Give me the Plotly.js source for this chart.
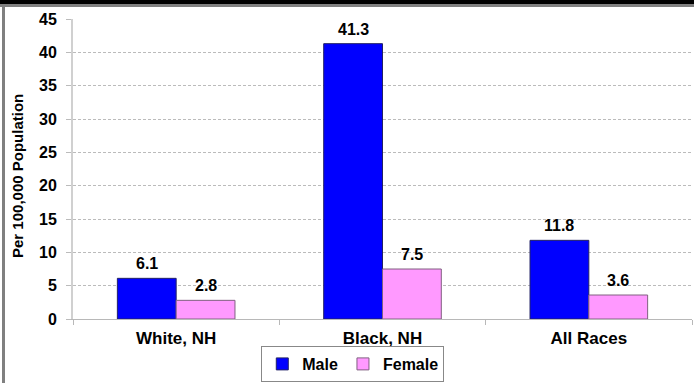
<!DOCTYPE html>
<html>
<head>
<meta charset="utf-8">
<script src="https://cdn.plot.ly/plotly-3.0.1.min.js"></script>
<style>
html,body{margin:0;padding:0;background:#fff;}
#wrap{position:relative;width:694px;height:383px;overflow:hidden;}
#chart{position:absolute;left:0;top:0;width:694px;height:383px;}
.bar{position:absolute;pointer-events:none;}
</style>
</head>
<body>
<div id="wrap">
<div id="chart"></div>
<div class="bar" style="left:0;top:0;width:694px;height:4px;background:#000;"></div>
<div class="bar" style="left:0;top:4px;width:694px;height:3px;background:#808080;"></div>
<div class="bar" style="left:2px;top:4px;width:3px;height:379px;background:#808080;"></div>
</div>
<script>
const categories = ["White, NH", "Black, NH", "All Races"];
const maleValues = [6.1, 41.3, 11.8];
const femaleValues = [2.8, 7.5, 3.6];
const seriesNames = ["Male", "Female"];
const yTitle = "Per 100,000 Population";

const FONT = "'Liberation Sans', Arial, sans-serif";
const fmt = v => v.toFixed(1);
const BARGAP = 0.43;
const barW = (1 - BARGAP) / 2;

const traces = [
  {type:'bar', name:seriesNames[0], x:categories, y:maleValues,
   marker:{color:'#0000FF', line:{color:'#222266', width:1}}},
  {type:'bar', name:seriesNames[1], x:categories, y:femaleValues,
   marker:{color:'#FF99FF', line:{color:'#806080', width:1}}}
];

const labelAnns = [];
[maleValues, femaleValues].forEach((vals, s) => {
  vals.forEach((v, i) => {
    labelAnns.push({x: i + (s === 0 ? -barW/2 : barW/2), y: v, xref:'x', yref:'y',
      text: fmt(v), showarrow:false, xanchor:'center', yanchor:'bottom', yshift:4,
      font:{family:FONT, size:16, weight:700, color:'#000'}});
  });
});

const layout = {
  width:694, height:383,
  margin:{l:73, r:2, t:19, b:64, pad:0, autoexpand:false},
  paper_bgcolor:'#fff', plot_bgcolor:'#fff',
  font:{family:FONT, size:16, color:'#000', weight:700},
  barmode:'group', bargap:BARGAP, bargroupgap:0,
  showlegend:true,
  legend:{orientation:'h', x:0.452, xanchor:'center', y:(319-382)/300, yanchor:'bottom',
    bordercolor:'#888', borderwidth:1, bgcolor:'#fff', itemwidth:30,
    font:{family:FONT, size:16, weight:700}, tracegroupgap:0},
  xaxis:{type:'category', showgrid:false, showline:true, linecolor:'#b8b8b8', linewidth:1,
    ticks:'outside', tickson:'boundaries', ticklen:5, tickcolor:'#b8b8b8',
    tickfont:{family:FONT, size:17, weight:700}, ticklabelstandoff:4},
  yaxis:{range:[0,45], dtick:5, showgrid:true, gridcolor:'#bbbbbb', griddash:'3px,2px', gridwidth:1,
    showline:true, linecolor:'#d0d0d0', linewidth:2, ticks:'outside', ticklen:5, tickcolor:'#bbbbbb',
    zeroline:false, tickfont:{family:FONT, size:16, weight:700}, ticklabelstandoff:6, fixedrange:true},
  annotations: labelAnns.concat([{text:yTitle, xref:'paper', yref:'paper',
    x:(17-73)/619, y:(319-176)/300, textangle:-90,
    showarrow:false, xanchor:'center', yanchor:'middle',
    font:{family:FONT, size:15, weight:700, color:'#000'}}])
};

Plotly.newPlot('chart', traces, layout, {staticPlot:true, displayModeBar:false});
</script>
</body>
</html>
